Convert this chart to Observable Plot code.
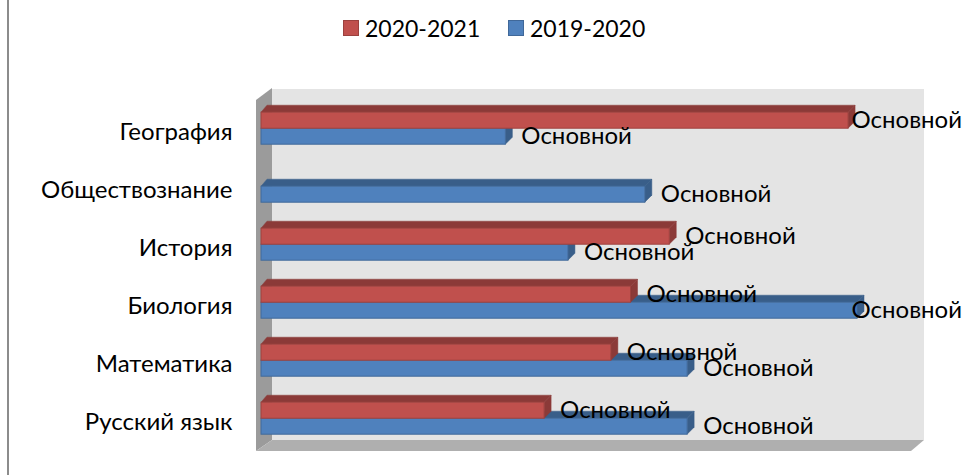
<!DOCTYPE html>
<html><head><meta charset="utf-8">
<script src="https://cdn.jsdelivr.net/npm/d3@7"></script>
<script src="https://cdn.jsdelivr.net/npm/@observablehq/plot@0.6"></script>
<style>
html,body{margin:0;padding:0;background:#fff;overflow:hidden}
body{width:963px;height:475px;position:relative;font-family:Lato,"Open Sans",sans-serif;color:#000}
#edge{position:absolute;left:7px;top:0;width:2px;height:475px;background:#8c8c8c}
#legend{position:relative;height:45px;font-size:23px}
#legend span{position:absolute;top:15px;line-height:26px}
#legend i{position:absolute;top:20px;width:14px;height:14px;box-sizing:content-box;border:1px solid}
svg{display:block}
</style></head><body>
<div id="edge"></div>
<div id="legend"></div>
<div id="chart"></div>
<script>
const categories = ["География","Обществознание","История","Биология","Математика","Русский язык"];
const seriesNames = ["2020-2021","2019-2020"];
const values2020 = [98.5,null,68.5,62,58.7,47.5];
const values2019 = [41,64.4,51.5,100,71.5,71.5];
const dataLabel = "Основной";
const colors = ["#c0504d","#4f81bd"];

const rows = [];
categories.forEach((c,i)=>{
  if(values2019[i]!=null) rows.push({category:c,series:seriesNames[1],value:values2019[i]});
  if(values2020[i]!=null) rows.push({category:c,series:seriesNames[0],value:values2020[i]});
});

// legend
const legend = document.getElementById("legend");
[[343,365],[508,530]].forEach(([sx,tx],i)=>{
  const sw=document.createElement("i");
  sw.style.left=sx+"px";sw.style.background=colors[i];
  sw.style.borderColor=d3.color(colors[i]).darker(0.6).formatHex();
  legend.appendChild(sw);
  const t=document.createElement("span");
  t.style.left=tx+"px";t.textContent=seriesNames[i];legend.appendChild(t);
});

const top0 = 45; // the SVG begins below the legend
const room = (pts,fill)=>d3.create("svg:polygon")
  .attr("points",pts.map(([x,y])=>`${x},${y-top0}`).join(" ")).attr("fill",fill).node();
const walls = ()=>{
  const g=d3.create("svg:g");
  g.append(()=>room([[272,89],[924,89],[924,440],[272,440]],"#e4e4e4"));
  g.append(()=>room([[256,100],[272,88],[272,440],[256,451]],"#9b9b9b"));
  g.append(()=>room([[256,451],[272,440],[924,440],[911,451]],"#afafaf"));
  return g.node();
};

// extrudes each bar into a 3-D box, reading the geometry Plot computed
const depth = 7;
function box(index,scales,values,dim,ctx,next){
  const g=next(index,scales,values,dim,ctx);
  g.querySelectorAll("rect").forEach(r=>{
    const x=+r.getAttribute("x"),y=+r.getAttribute("y"),w=+r.getAttribute("width"),h=+r.getAttribute("height");
    const c=d3.color(r.getAttribute("fill"));
    const dark=c.darker(0.9).formatHex();
    const face=(pts)=>{
      const p=document.createElementNS("http://www.w3.org/2000/svg","polygon");
      p.setAttribute("points",pts.map(a=>a.join(",")).join(" "));
      p.setAttribute("fill",dark);
      p.setAttribute("stroke",dark);
      p.setAttribute("stroke-width","0.5");
      g.insertBefore(p,r);
    };
    face([[x,y],[x+depth-1,y-depth],[x+w+depth,y-depth],[x+w,y]]);
    face([[x+w,y],[x+w+depth,y-depth],[x+w+depth,y+h-depth],[x+w,y+h]]);
    r.setAttribute("stroke",c.darker(0.55).formatHex());
    r.setAttribute("stroke-width","1");
  });
  return g;
}

const plot = Plot.plot({
  width:963,height:430,
  marginTop:52.8,marginBottom:26.8,marginLeft:261,marginRight:106,
  style:{fontFamily:'Lato,"Open Sans",sans-serif',fontSize:"24px",color:"#000",overflow:"visible",background:"transparent"},
  x:{domain:[0,100],axis:null},
  y:{domain:seriesNames,axis:null,paddingInner:0,paddingOuter:0.78},
  fy:{domain:categories,padding:0,axis:null},
  color:{domain:seriesNames,range:colors},
  marks:[
    Plot.frame({facet:"super",stroke:"none",render:walls}),
    Plot.axisFy({anchor:"left",tickSize:0,tickPadding:29,label:null,fontSize:24,dy:4}),
    Plot.barX(rows,{fy:"category",y:"series",x:"value",fill:"series",render:box}),
    Plot.text(rows,{fy:"category",y:"series",x:d=>Math.min(d.value+2.6,99),text:()=>dataLabel,textAnchor:"start",dy:0,fill:"#000",fontSize:24})
  ]
});
document.getElementById("chart").appendChild(plot);
</script>
</body></html>
